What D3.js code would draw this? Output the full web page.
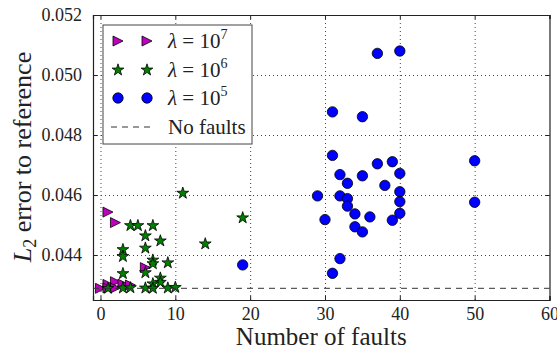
<!DOCTYPE html>
<html>
<head>
<meta charset="utf-8">
<script src="https://cdn.jsdelivr.net/npm/d3@7"></script>
<style>
  body { margin: 0; background: white; }
  svg text { font-family: "Liberation Serif", serif; }
</style>
</head>
<body>
<svg id="chart"></svg>
<script>
// data
var faults1e7 = [0, 1, 2, 1, 1, 2, 2, 3, 4, 6];
var err1e7 = [0.04289, 0.04543, 0.04508, 0.04302, 0.04290, 0.04311, 0.04290, 0.04303, 0.04300, 0.04358];

var faults1e6 = [11, 4, 5, 7, 6, 8, 6, 3, 3, 7, 7, 9, 6, 3, 8, 8, 7,
                 1, 3, 4, 6, 7, 9, 10, 19, 14];
var err1e6 = [0.04606, 0.04498, 0.04498, 0.04498, 0.04464, 0.04447, 0.04423, 0.04418, 0.04395,
              0.04383, 0.04371, 0.04374, 0.04341, 0.04338, 0.04323, 0.04309, 0.04304,
              0.04289, 0.04290, 0.04291, 0.04290, 0.04289, 0.04290, 0.04292, 0.04524, 0.04437];

var faults1e5 = [37, 40, 31, 35, 31, 37, 39, 32, 35, 40, 33, 38, 29, 32, 33, 40, 40, 33,
                 34, 36, 40, 30, 39, 34, 35, 32, 31, 19, 50, 50];
var err1e5 = [0.05072, 0.05080, 0.04877, 0.04861, 0.04732, 0.04704, 0.04711, 0.04668, 0.04664,
              0.04672, 0.04639, 0.04632, 0.04597, 0.04597, 0.04588, 0.04611, 0.04578, 0.04563,
              0.04537, 0.04527, 0.04539, 0.04518, 0.04516, 0.04494, 0.04477, 0.04388, 0.04339,
              0.04367, 0.04714, 0.04576];

var noFaultsErr = 0.04289;

var xTicks = [0, 10, 20, 30, 40, 50, 60];
var yTicks = [0.044, 0.046, 0.048, 0.050, 0.052];
var legendLabels = [["\u03bb", " = 10", "7"], ["\u03bb", " = 10", "6"], ["\u03bb", " = 10", "5"]];

var width = 557, height = 351,
    plotLeft = 93, plotRight = 549.5, plotTop = 15, plotBottom = 300;

var svg = d3.select('svg#chart')
    .attr('width', width)
    .attr('height', height);

var x = d3.scaleLinear().domain([-1, 60]).range([plotLeft, plotRight]);
var y = d3.scaleLinear().domain([0.0425, 0.052]).range([plotBottom, plotTop]);

// grid
svg.append('g')
    .attr('transform', 'translate(0,' + plotBottom + ')')
    .call(d3.axisBottom(x).tickValues(xTicks.slice(0, -1)).tickSize(-(plotBottom - plotTop)).tickFormat(''))
    .call(styleGrid);
svg.append('g')
    .attr('transform', 'translate(' + plotLeft + ',0)')
    .call(d3.axisLeft(y).tickValues(yTicks.slice(0, -1)).tickSize(-(plotRight - plotLeft)).tickFormat(''))
    .call(styleGrid);

function styleGrid(g) {
    g.select('.domain').remove();
    g.selectAll('line')
        .attr('stroke', '#444')
        .attr('stroke-width', 1)
        .attr('stroke-dasharray', '1,3');
}

// markers
function starPath(r) {
    var pts = [];
    for (var i = 0; i < 10; i++) {
        var rr = i % 2 === 0 ? r : r * 0.382;
        var a = -Math.PI / 2 + i * Math.PI / 5;
        pts.push([rr * Math.cos(a), rr * Math.sin(a)]);
    }
    return 'M' + pts.map(function (p) { return p[0].toFixed(2) + ',' + p[1].toFixed(2); }).join('L') + 'Z';
}
function trianglePath(s) {
    return 'M' + s + ',0L' + (-s) + ',' + (-s) + 'L' + (-s) + ',' + s + 'Z';
}

var triShape = trianglePath(5), starShape = starPath(6.2);

function drawSeries(xs, ys, fill, shape) {
    svg.append('g').selectAll('path')
        .data(xs)
        .enter().append('path')
        .attr('d', shape)
        .attr('transform', function (d, i) { return 'translate(' + x(d) + ',' + y(ys[i]) + ')'; })
        .attr('fill', fill)
        .attr('stroke', 'black')
        .attr('stroke-width', 0.8);
}

drawSeries(faults1e7, err1e7, '#bf00bf', triShape);
drawSeries(faults1e6, err1e6, '#008000', starShape);
svg.append('g').selectAll('circle')
    .data(faults1e5)
    .enter().append('circle')
    .attr('cx', function (d) { return x(d); })
    .attr('cy', function (d, i) { return y(err1e5[i]); })
    .attr('r', 5.2)
    .attr('fill', '#0000ff')
    .attr('stroke', 'black')
    .attr('stroke-width', 0.8);

// no faults line
svg.append('line')
    .attr('x1', plotLeft).attr('x2', plotRight)
    .attr('y1', y(noFaultsErr)).attr('y2', y(noFaultsErr))
    .attr('stroke', '#333')
    .attr('stroke-width', 1)
    .attr('stroke-dasharray', '6,5');

// axes with inward ticks on all sides
var fmtY = d3.format('.3f');
var axB = svg.append('g').attr('transform', 'translate(0,' + plotBottom + ')')
    .call(d3.axisBottom(x).tickValues(xTicks).tickSize(-4).tickPadding(7));
var axT = svg.append('g').attr('transform', 'translate(0,' + plotTop + ')')
    .call(d3.axisTop(x).tickValues(xTicks).tickSize(-4).tickFormat(''));
var axL = svg.append('g').attr('transform', 'translate(' + plotLeft + ',0)')
    .call(d3.axisLeft(y).tickValues(yTicks).tickSize(-4).tickPadding(11).tickFormat(fmtY));
var axR = svg.append('g').attr('transform', 'translate(' + plotRight + ',0)')
    .call(d3.axisRight(y).tickValues(yTicks).tickSize(-4).tickFormat(''));

[axB, axT, axL, axR].forEach(function (g) {
    g.attr('font-family', null);
    g.select('.domain').attr('stroke', '#222').attr('stroke-width', 1.2);
    g.selectAll('.tick line').attr('stroke', '#222');
    g.selectAll('.tick text')
        .style('font-family', '"Liberation Serif", serif')
        .attr('font-size', 18)
        .attr('fill', '#222');
});

// axis titles
svg.append('text')
    .attr('x', (plotLeft + plotRight) / 2)
    .attr('y', 345)
    .attr('text-anchor', 'middle')
    .attr('font-size', 25)
    .attr('fill', '#222')
    .text('Number of faults');

var yl = svg.append('text')
    .attr('transform', 'translate(31,157) rotate(-90)')
    .attr('text-anchor', 'middle')
    .attr('font-size', 26)
    .attr('fill', '#222');
yl.append('tspan').attr('font-style', 'italic').text('L');
yl.append('tspan').attr('font-size', 18).attr('dy', 5).text('2');
yl.append('tspan').attr('dy', -5).text(' error to reference');

// legend
var legend = svg.append('g');
legend.append('rect')
    .attr('x', 103).attr('y', 25)
    .attr('width', 149).attr('height', 119)
    .attr('fill', 'white')
    .attr('stroke', '#444')
    .attr('stroke-width', 1);

var rowY = [41, 70, 98, 127];
var legendShapes = [
    {fill: '#bf00bf', d: triShape},
    {fill: '#008000', d: starShape},
    {fill: '#0000ff', d: d3.symbol(d3.symbolCircle, Math.PI * 5.2 * 5.2)()}
];
legendShapes.forEach(function (s, i) {
    [118, 147].forEach(function (mx) {
        legend.append('path')
            .attr('d', s.d)
            .attr('transform', 'translate(' + mx + ',' + rowY[i] + ')')
            .attr('fill', s.fill)
            .attr('stroke', 'black')
            .attr('stroke-width', 0.8);
    });
    var t = legend.append('text')
        .attr('x', 168).attr('y', rowY[i] + 7)
        .attr('font-size', 21)
        .attr('fill', '#222');
    t.append('tspan').attr('font-style', 'italic').text(legendLabels[i][0]);
    t.append('tspan').text(legendLabels[i][1]);
    t.append('tspan').attr('font-size', 14).attr('dy', -9).text(legendLabels[i][2]);
});
legend.append('line')
    .attr('x1', 111).attr('x2', 155)
    .attr('y1', rowY[3]).attr('y2', rowY[3])
    .attr('stroke', '#333')
    .attr('stroke-dasharray', '6,5');
legend.append('text')
    .attr('x', 168).attr('y', rowY[3] + 7)
    .attr('font-size', 21)
    .attr('fill', '#222')
    .text('No faults');
</script>
</body>
</html>
